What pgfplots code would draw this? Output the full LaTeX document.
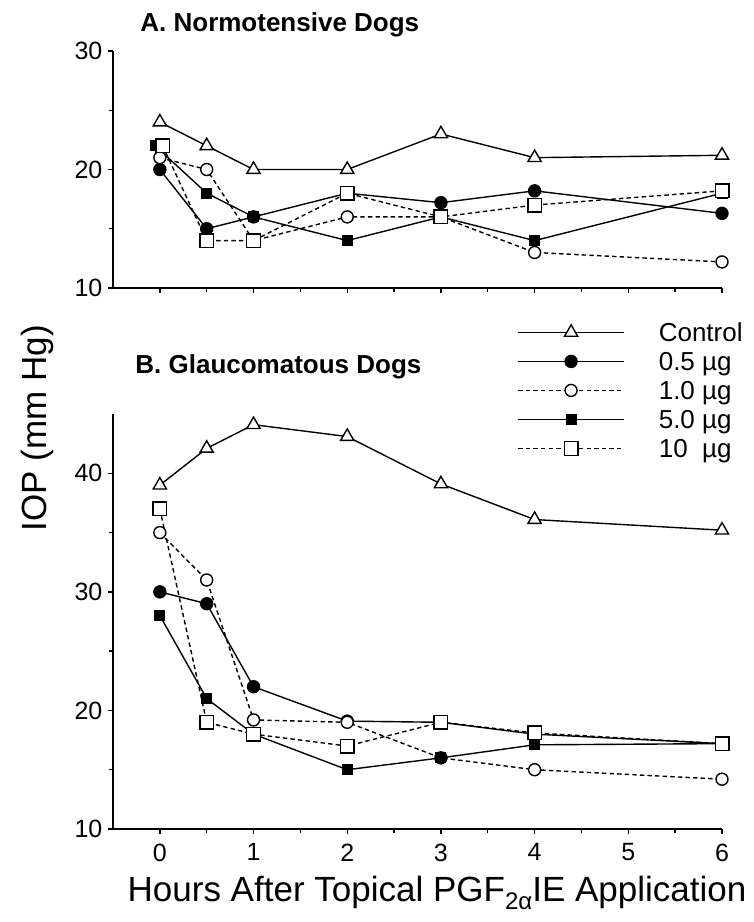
\documentclass[border=0pt]{standalone}
\usepackage{fontspec}
\setmainfont{Liberation Sans}
\usepackage{pgfplots}
\pgfplotsset{compat=1.18}

\pgfplotsset{
  iopaxis/.style={
    scale only axis, width=304.5pt,
    xmin=-0.5, xmax=6, ymin=10,
    axis x line=bottom, axis y line=left,
    axis line style={-, line width=0.8pt},
    every outer x axis line/.append style={-},
    every outer y axis line/.append style={-},
    tick align=outside, major tick length=2.6pt, minor tick length=2.2pt,
    every tick/.style={black, line width=0.7pt},
    xtick={0,...,6}, minor xtick={0.5,1.5,...,5.5},
    /pgf/number format/assume math mode=true,
    ticklabel style={font=\fontsize{12.5}{14}\selectfont},
    xticklabel style={inner sep=4.5pt},
    yticklabel style={inner sep=2.5pt},
    clip=false,
  },
  ctrl/.style={black, solid, line width=0.7pt, mark=triangle*, mark size=3.8pt,
    mark options={solid, fill=white, line width=0.7pt}},
  dA/.style={black, solid, line width=0.7pt, mark=*, mark size=3pt,
    mark options={solid, fill=black}},
  dB/.style={black, line width=0.7pt, dash pattern=on 2.2pt off 1.6pt, mark=*, mark size=3pt,
    mark options={solid, fill=white, line width=0.7pt}},
  dC/.style={black, solid, line width=0.7pt, mark=square*, mark size=2.4pt,
    mark options={solid, fill=black}},
  dD/.style={black, line width=0.7pt, dash pattern=on 2.2pt off 1.6pt, mark=square*, mark size=3.4pt,
    mark options={solid, fill=white, line width=0.7pt}},
}

\begin{document}
\begin{tikzpicture}
\useasboundingbox (0,0) rectangle (377pt,-461pt);

% A. Normotensive dogs
\begin{axis}[iopaxis, at={(56.5pt,-144pt)}, anchor=south west,
  height=118.5pt, ymax=30, ytick={10,20,30}, minor ytick={15,25},
  xticklabels={}]
\addplot[ctrl] coordinates {(0,24) (0.5,22) (1,20) (2,20) (3,23) (4,21) (6,21.2)};
\addplot[dA] coordinates {(0,20) (0.5,15) (1,16) (2,18) (3,17.2) (4,18.2) (6,16.3)};
\addplot[dB] coordinates {(0,21) (0.5,20) (1,14) (2,16) (3,16) (4,13) (6,12.2)};
\addplot[dC] coordinates {(-0.05,22) (0.5,18) (1,16) (2,14) (3,16) (4,14) (6,18)};
\addplot[dD] coordinates {(0.03,22) (0.5,14) (1,14) (2,18) (3,16) (4,17) (6,18.2)};
\end{axis}

% B. Glaucomatous dogs
\begin{axis}[iopaxis, at={(56.5pt,-414.5pt)}, anchor=south west,
  height=207.5pt, ymax=45, ytick={10,20,30,40}, minor ytick={15,25,35},
  legend cell align=left,
  legend image code/.code={\draw[mark repeat=2, mark phase=2]
    plot coordinates {(0pt,0pt) (26.5pt,0pt) (53pt,0pt)};},
  legend style={draw=none, fill=none, at={(axis description cs:0.6634,1.2325)},
    anchor=north west, inner sep=0pt, row sep=0pt, column sep=16.5pt,
    font=\fontsize{13}{15}\selectfont,
    nodes={inner sep=0.5pt, text height=11.5pt, text depth=2pt}}]
\addplot[ctrl] coordinates {(0,39) (0.5,42.1) (1,44.1) (2,43.1) (3,39.1) (4,36.1) (6,35.2)};
\addlegendentry{Control}
\addplot[dA] coordinates {(0,30) (0.5,29) (1,22) (2,19.1) (3,19) (4,18) (6,17.2)};
\addlegendentry{0.5 µg}
\addplot[dB] coordinates {(0,35) (0.5,31) (1,19.2) (2,19) (3,16) (4,15) (6,14.2)};
\addlegendentry{1.0 µg}
\addplot[dC] coordinates {(0,28) (0.5,21) (1,18) (2,15) (3,16) (4,17.1) (6,17.2)};
\addlegendentry{5.0 µg}
\addplot[dD] coordinates {(0,37) (0.5,19) (1,18) (2,17) (3,19) (4,18.1) (6,17.2)};
\addlegendentry{10\phantom{.} µg}
\end{axis}

\node[anchor=base west, inner sep=0pt, font=\bfseries\fontsize{13}{15}\selectfont]
  at (70pt,-15.5pt) {A. Normotensive Dogs};
\node[anchor=base west, inner sep=0pt, font=\bfseries\fontsize{13}{15}\selectfont]
  at (67.5pt,-186.5pt) {B. Glaucomatous Dogs};
\node[rotate=90, inner sep=0pt, font=\fontsize{17.5}{20}\selectfont]
  at (18.5pt,-214pt) {IOP (mm Hg)};
\node[anchor=base, inner sep=0pt, font=\fontsize{17.5}{20}\selectfont]
  at (218.5pt,-450.5pt) {Hours After Topical PGF\raisebox{-0.45ex}{\fontsize{12}{12}\selectfont 2α}IE Application};
\end{tikzpicture}
\end{document}
